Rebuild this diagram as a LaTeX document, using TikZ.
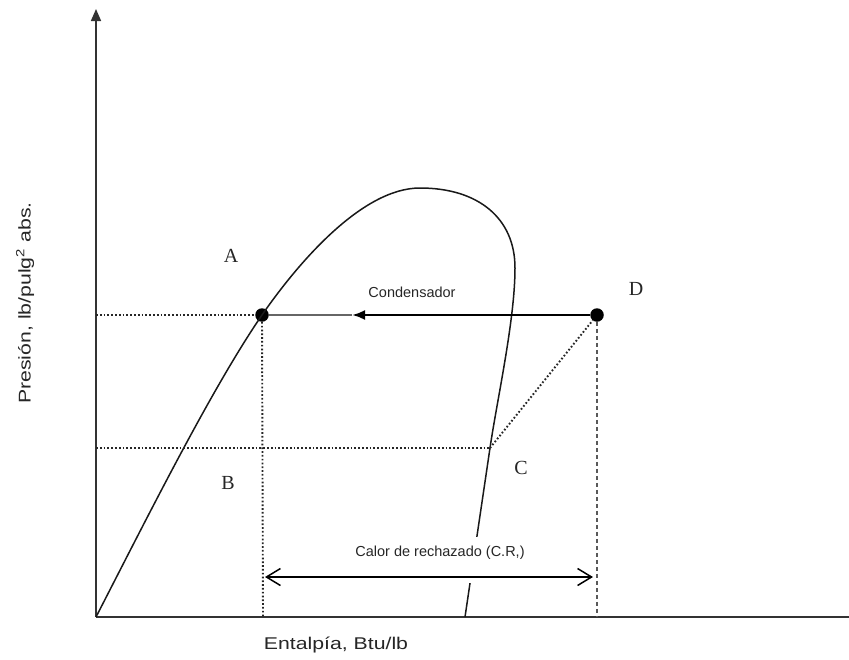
\documentclass[tikz,border=0pt]{standalone}
\usepackage{fontspec}
\setmainfont{Liberation Sans}
\newfontfamily\serifL{Liberation Serif}
\usetikzlibrary{arrows.meta}
\begin{document}
\begin{tikzpicture}[x=1pt,y=-1pt,
  axisline/.style={line width=1.6pt, black!80},
  curveline/.style={line width=1.5pt, black!90},
  dotline/.style={line width=1.9pt, dash pattern=on 1.7pt off 2.1pt, black!85},
  dashline/.style={line width=1.6pt, dash pattern=on 4pt off 3pt, black!65},
  dotpt/.style={circle, fill=black, inner sep=0pt, minimum size=13.5pt},
  letterlbl/.style={font=\serifL\fontsize{20}{23}\selectfont, text=black!85},
  smalllbl/.style={font=\fontsize{14.5}{17}\selectfont, text=black!85},
  axislbl/.style={font=\fontsize{17}{20}\selectfont, text=black!85}]
\useasboundingbox (0,0) rectangle (849,659);
% axes
\coordinate (O) at (96,617);
\coordinate (Ytop) at (96,9);
\coordinate (Xend) at (849,617);
\draw[axisline, -{Triangle[length=12pt,width=10pt]}] (O) -- (Ytop);
\draw[axisline] (O) -- (Xend);
% key points
\node[dotpt] (A) at (262,315) {};
\node[dotpt] (D) at (597,315) {};
\coordinate (C) at (490,448);
\coordinate (T) at (420,188);
\coordinate (Rs) at (515,268);
\coordinate (Cb) at (465,617);
\coordinate (Ay) at (96,315);
\coordinate (Ax) at (263,617);
\coordinate (Cy) at (96,448);
\coordinate (Dx) at (597,617);
\coordinate (M) at (352,315);
\coordinate (L) at (265,577);
\coordinate (R) at (593,577);
% saturation dome
\draw[curveline] (O) .. controls (150,512) and (212,388) .. (A.center)
  .. controls (298,263) and (362,188) .. (T)
  .. controls (478,188) and (515,218) .. (Rs)
  .. controls (515,320) and (497,400) .. (C)
  -- (Cb);
% white label area that hides the curve
\fill[white] (298,537) rectangle (580,583);
% dotted guides
\draw[dotline] (Ay) -- (A);
\draw[dotline] (A) -- (Ax);
\draw[dotline] (Cy) -- (C);
\draw[dotline] (C) -- (D);
\draw[dashline] (D) -- (Dx);
% condenser line
\draw[line width=1.5pt, black!60] (A) -- (M);
\draw[line width=2.4pt, -{Latex[length=13pt,width=10pt]}] (D) -- (M);
% heat rejected arrow
\draw[line width=1.5pt, {Straight Barb[length=14pt,width=17pt]}-{Straight Barb[length=14pt,width=17pt]}] (L) -- (R);
% labels
\node[smalllbl] (cond) at (412,292) {Condensador};
\node[smalllbl] (cr) at (440,553) {Calor de rechazado (C.R,)};
\node[letterlbl] (lA) at (231,256) {A};
\node[letterlbl] (lB) at (228,483) {B};
\node[letterlbl] (lC) at (521,468) {C};
\node[letterlbl] (lD) at (636,289) {D};
\node[axislbl] (xl) at (336,645) {\scalebox{1.25}[1]{Entalpía, Btu/lb}};
\node[axislbl, rotate=90] (yl) at (25,303) {\scalebox{1.25}[1]{Presión, lb/pulg\textsuperscript{2} abs.}};
\end{tikzpicture}
\end{document}
